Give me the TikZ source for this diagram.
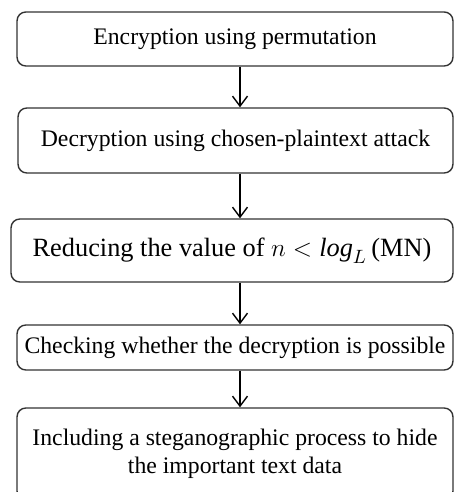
\documentclass[tikz,border=0pt]{standalone}
\usepackage{fontspec}
\setmainfont{Liberation Serif}
\usetikzlibrary{arrows.meta}
\begin{document}
\begin{tikzpicture}[x=0.02cm,y=-0.02cm,line cap=butt,line join=miter,>={Straight Barb[length=2mm,width=3mm]},font=\fontsize{13.5}{16}\selectfont]
	\tikzset{stepbox/.style={draw=black!80,line width=0.8pt,rounded corners=5pt,align=center,inner sep=0pt},
		link/.style={->,line width=0.8pt}}
	\useasboundingbox (0,0) rectangle (454,492);
	\clip (0,0) rectangle (454,492);
	\coordinate (axis) at (240,0); % arrows run down this line
	\node[stepbox,minimum width=8.72cm,minimum height=1.08cm] (b1) at (235,39) {Encryption using permutation};
	\node[stepbox,minimum width=8.70cm,minimum height=1.30cm] (b2) at (235.5,140.5) {Decryption using chosen-plaintext attack};
	\node[stepbox,minimum width=8.84cm,minimum height=1.26cm,font=\fontsize{15}{18}\selectfont] (b3) at (232,250.5) {Reducing the value of $n<\mathit{log}_L$\,(MN)};
	\node[stepbox,minimum width=8.72cm,minimum height=0.90cm] (b4) at (235,347.5) {Checking whether the decryption is possible};
	\node[stepbox,minimum width=8.72cm,minimum height=1.84cm] (b5) at (235,454) {Including a steganographic process to hide\\the important text data};
	\foreach \p/\q in {b1/b2,b2/b3,b3/b4,b4/b5}{
		\draw[link] (\p.south -| axis) -- (\q.north -| axis);}
\end{tikzpicture}
\end{document}
